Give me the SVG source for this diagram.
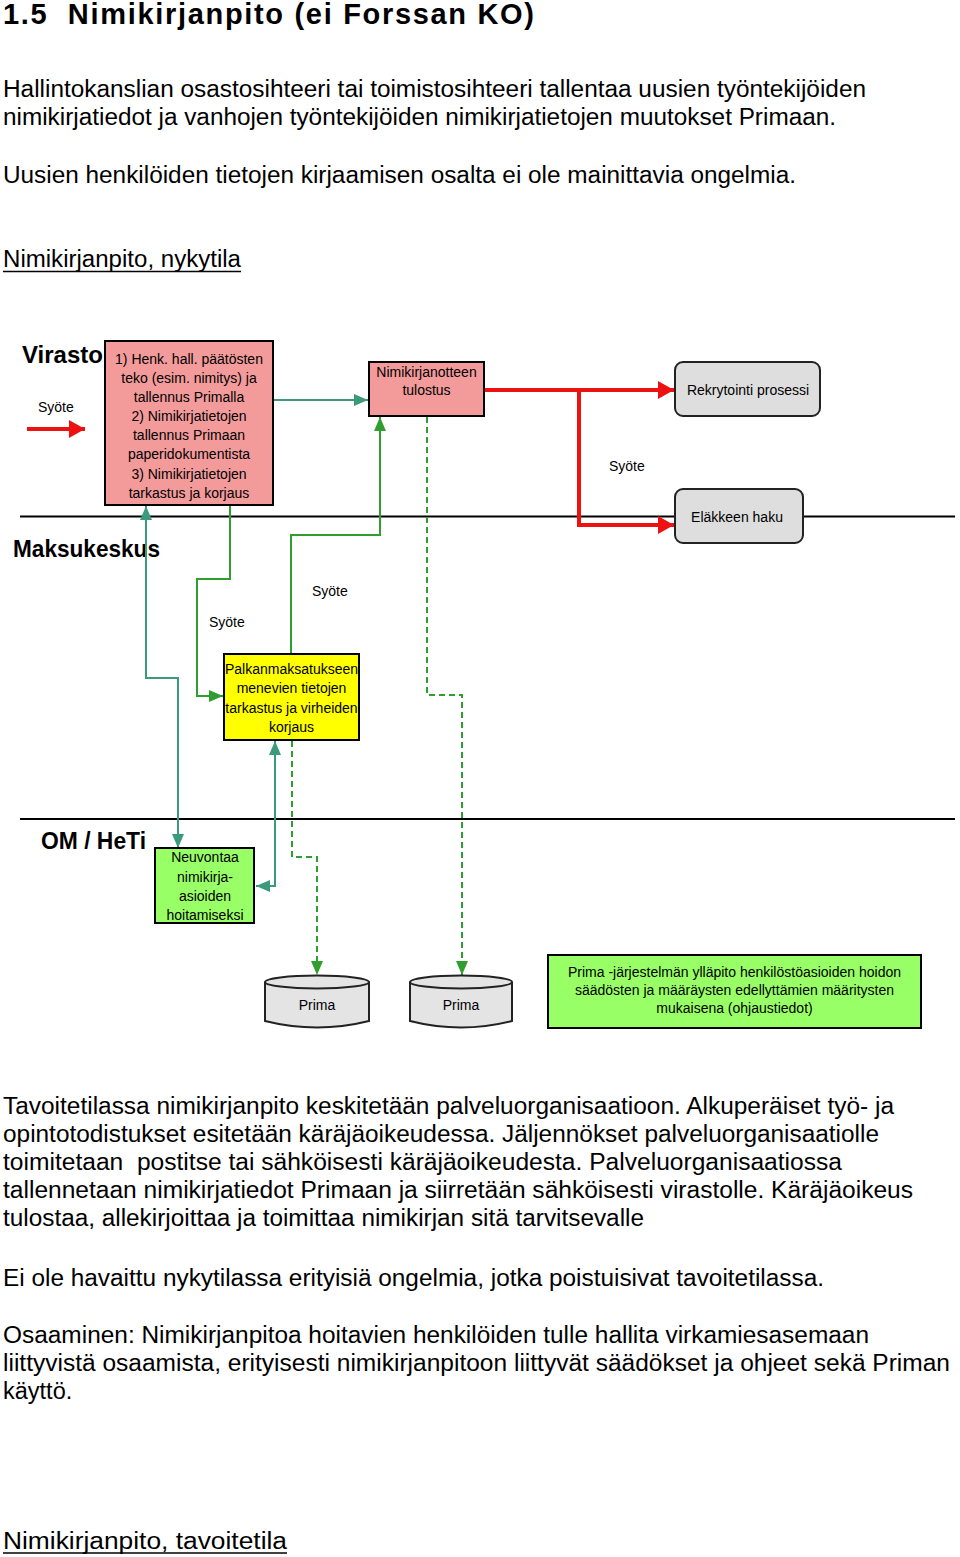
<svg xmlns="http://www.w3.org/2000/svg" width="960" height="1557" viewBox="0 0 960 1557">
<style>
text{font-family:"Liberation Sans",Arial,sans-serif;fill:#000}
.title{font-size:29px;font-weight:bold}
.p{font-size:23.5px}
.lane{font-size:24px;font-weight:bold}
.lbl{font-size:14px}
.bx{font-size:14px;text-anchor:middle}
.lanel{stroke:#000;stroke-width:2}
.teal{fill:none;stroke:#3c9a7c;stroke-width:2}
.grn{fill:none;stroke:#2f9e2f;stroke-width:2}
.dash{fill:none;stroke:#2f9e2f;stroke-width:2;stroke-dasharray:6,4}
.red{fill:none;stroke:#ee1111;stroke-width:4}
.pink{fill:#f39b9b;stroke:#000;stroke-width:2}
.yel{fill:#ffff00;stroke:#000;stroke-width:2}
.lg{fill:#99ff66;stroke:#000;stroke-width:2}
.gr{fill:#dedede;stroke:#222;stroke-width:2}
.cyl{fill:#e4e4e4;stroke:#222;stroke-width:2}
</style>
<defs>
<marker id="aT" viewBox="0 0 14 12" refX="14" refY="6" markerWidth="14" markerHeight="12" markerUnits="userSpaceOnUse" orient="auto-start-reverse"><path d="M0,0 L14,6 L0,12 Z" fill="#3c9a7c"/></marker>
<marker id="aG" viewBox="0 0 14 12" refX="14" refY="6" markerWidth="14" markerHeight="12" markerUnits="userSpaceOnUse" orient="auto-start-reverse"><path d="M0,0 L14,6 L0,12 Z" fill="#2f9e2f"/></marker>
<marker id="aR" viewBox="0 0 16 18" refX="16" refY="9" markerWidth="16" markerHeight="18" markerUnits="userSpaceOnUse" orient="auto"><path d="M0,0 L16,9 L0,18 Z" fill="#ee1111"/></marker>
</defs>

<!-- page text -->
<text class="title" x="3" y="24" xml:space="preserve" textLength="531" lengthAdjust="spacing">1.5  Nimikirjanpito (ei Forssan KO)</text>
<text class="p" x="3" y="97" textLength="863" lengthAdjust="spacingAndGlyphs">Hallintokanslian osastosihteeri tai toimistosihteeri tallentaa uusien työntekijöiden</text>
<text class="p" x="3" y="125" textLength="833" lengthAdjust="spacingAndGlyphs">nimikirjatiedot ja vanhojen työntekijöiden nimikirjatietojen muutokset Primaan.</text>
<text class="p" x="3" y="183" textLength="793" lengthAdjust="spacingAndGlyphs">Uusien henkilöiden tietojen kirjaamisen osalta ei ole mainittavia ongelmia.</text>
<text class="p" x="3" y="267" textLength="238" lengthAdjust="spacingAndGlyphs">Nimikirjanpito, nykytila</text>
<line x1="3" y1="271.5" x2="241" y2="271.5" stroke="#000" stroke-width="1.5"/>

<!-- swimlanes -->
<g id="lanes">
<line class="lanel" x1="20" y1="516.5" x2="955" y2="516.5"/>
<line class="lanel" x1="20" y1="819" x2="955" y2="819"/>
<text class="lane" x="22" y="363" textLength="81" lengthAdjust="spacingAndGlyphs">Virasto</text>
<text class="lane" x="13" y="557" textLength="147" lengthAdjust="spacingAndGlyphs">Maksukeskus</text>
<text class="lane" x="41" y="849" textLength="105" lengthAdjust="spacingAndGlyphs">OM / HeTi</text>
</g>

<!-- connectors -->
<g id="connectors">
<path class="red" d="M27,429 H85" stroke-width="5" marker-end="url(#aR)"/>
<path class="teal" d="M273,400 H368" marker-end="url(#aT)"/>
<path class="grn" d="M230,505 V579 H197 V696 H223" marker-end="url(#aG)"/>
<path class="grn" d="M291,654 V535 H380 V417" marker-end="url(#aG)"/>
<path class="teal" d="M146,506 V678 H178 V848" marker-start="url(#aT)" marker-end="url(#aT)"/>
<path class="teal" d="M256,886 H275 V741" marker-start="url(#aT)" marker-end="url(#aT)"/>
<path class="dash" d="M292,741 V857 H317 V975" marker-end="url(#aG)"/>
<path class="dash" d="M427,417 V695 H462 V975" marker-end="url(#aG)"/>
<path class="red" d="M484,390 H674" marker-end="url(#aR)"/>
<path class="red" d="M579,390 V525 H674" marker-end="url(#aR)"/>
<text class="lbl" x="38" y="412">Syöte</text>
<text class="lbl" x="209" y="627">Syöte</text>
<text class="lbl" x="312" y="596">Syöte</text>
<text class="lbl" x="609" y="471">Syöte</text>
</g>

<!-- nodes -->
<g id="n-henk">
<rect class="pink" x="105" y="341" width="168" height="164"/>
<text class="bx" x="189" y="364">1) Henk. hall. päätösten</text>
<text class="bx" x="189" y="383">teko (esim. nimitys) ja</text>
<text class="bx" x="189" y="402">tallennus Primalla</text>
<text class="bx" x="189" y="421">2) Nimikirjatietojen</text>
<text class="bx" x="189" y="440">tallennus Primaan</text>
<text class="bx" x="189" y="459">paperidokumentista</text>
<text class="bx" x="189" y="479">3) Nimikirjatietojen</text>
<text class="bx" x="189" y="498">tarkastus ja korjaus</text>
</g>
<g id="n-tulostus">
<rect class="pink" x="369" y="362" width="115" height="54"/>
<text class="bx" x="426.5" y="377">Nimikirjanotteen</text>
<text class="bx" x="426.5" y="395">tulostus</text>
</g>
<g id="n-rekry">
<rect class="gr" x="675" y="362" width="145" height="54" rx="8"/>
<text class="bx" x="748" y="395">Rekrytointi prosessi</text>
</g>
<g id="n-elake">
<rect class="gr" x="675" y="489" width="128" height="54" rx="8"/>
<text class="bx" x="737" y="522">Eläkkeen haku</text>
</g>
<g id="n-palkka">
<rect class="yel" x="224" y="654" width="135" height="86"/>
<text class="bx" x="291.5" y="674">Palkanmaksatukseen</text>
<text class="bx" x="291.5" y="693">menevien tietojen</text>
<text class="bx" x="291.5" y="713">tarkastus ja virheiden</text>
<text class="bx" x="291.5" y="732">korjaus</text>
</g>
<g id="n-neuvonta">
<rect class="lg" x="155" y="848" width="99" height="75"/>
<text class="bx" x="205" y="862">Neuvontaa</text>
<text class="bx" x="205" y="882">nimikirja-</text>
<text class="bx" x="205" y="901">asioiden</text>
<text class="bx" x="205" y="920">hoitamiseksi</text>
</g>
<g id="n-prima1">
<path class="cyl" d="M265,982 V1021 Q317,1034 369,1021 V982"/>
<ellipse class="cyl" cx="317" cy="982" rx="52" ry="6.5"/>
<text class="bx" x="317" y="1010">Prima</text>
</g>
<g id="n-prima2">
<path class="cyl" d="M410,982 V1021 Q461,1034 512,1021 V982"/>
<ellipse class="cyl" cx="461" cy="982" rx="51" ry="6.5"/>
<text class="bx" x="461" y="1010">Prima</text>
</g>
<g id="n-yllapito">
<rect class="lg" x="548" y="955" width="373" height="73"/>
<text class="bx" x="734.5" y="977">Prima -järjestelmän ylläpito henkilöstöasioiden hoidon</text>
<text class="bx" x="734.5" y="995">säädösten ja määräysten edellyttämien määritysten</text>
<text class="bx" x="734.5" y="1013">mukaisena (ohjaustiedot)</text>
</g>

<!-- lower text -->
<text class="p" x="3" y="1114" textLength="891" lengthAdjust="spacingAndGlyphs">Tavoitetilassa nimikirjanpito keskitetään palveluorganisaatioon. Alkuperäiset työ- ja</text>
<text class="p" x="3" y="1142" textLength="876" lengthAdjust="spacingAndGlyphs">opintotodistukset esitetään käräjäoikeudessa. Jäljennökset palveluorganisaatiolle</text>
<text class="p" x="3" y="1170" xml:space="preserve" textLength="839" lengthAdjust="spacingAndGlyphs">toimitetaan  postitse tai sähköisesti käräjäoikeudesta. Palveluorganisaatiossa</text>
<text class="p" x="3" y="1198" textLength="910" lengthAdjust="spacingAndGlyphs">tallennetaan nimikirjatiedot Primaan ja siirretään sähköisesti virastolle. Käräjäoikeus</text>
<text class="p" x="3" y="1226" textLength="641" lengthAdjust="spacingAndGlyphs">tulostaa, allekirjoittaa ja toimittaa nimikirjan sitä tarvitsevalle</text>
<text class="p" x="3" y="1286" textLength="821" lengthAdjust="spacingAndGlyphs">Ei ole havaittu nykytilassa erityisiä ongelmia, jotka poistuisivat tavoitetilassa.</text>
<text class="p" x="3" y="1343" textLength="866" lengthAdjust="spacingAndGlyphs">Osaaminen: Nimikirjanpitoa hoitavien henkilöiden tulle hallita virkamiesasemaan</text>
<text class="p" x="3" y="1371" textLength="947" lengthAdjust="spacingAndGlyphs">liittyvistä osaamista, erityisesti nimikirjanpitoon liittyvät säädökset ja ohjeet sekä Priman</text>
<text class="p" x="3" y="1399">käyttö.</text>
<text class="p" x="3" y="1549" textLength="284" lengthAdjust="spacingAndGlyphs">Nimikirjanpito, tavoitetila</text>
<line x1="3" y1="1553" x2="287" y2="1553" stroke="#000" stroke-width="1.5"/>
</svg>
